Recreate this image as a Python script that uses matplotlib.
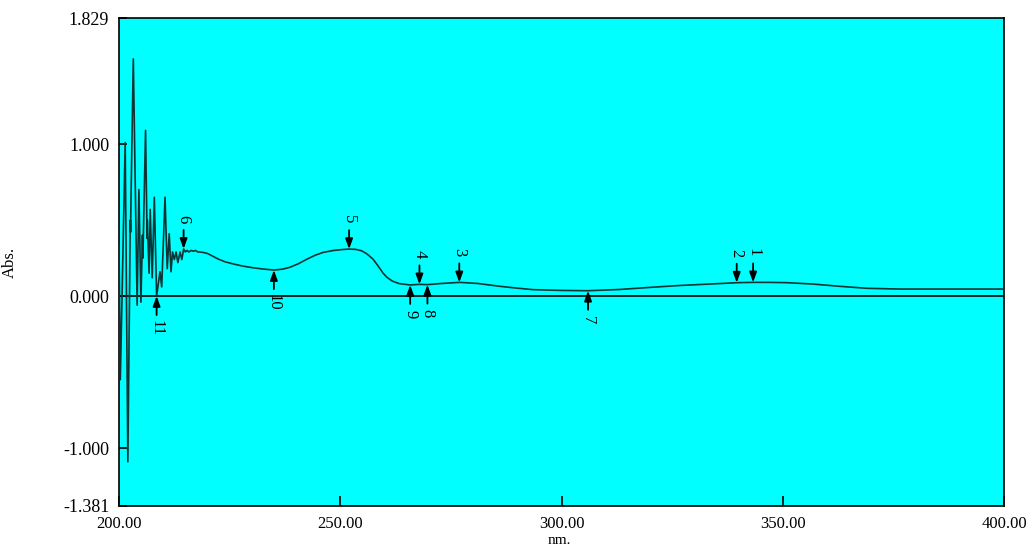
import numpy as np
import matplotlib
matplotlib.use("Agg")
import matplotlib.pyplot as plt

# spectrum (nm, Abs.)
wavelength = [200.0, 200.3, 201.4, 202.0, 202.55, 202.62, 202.7, 203.23, 204.1, 204.5,
              204.95, 205.3, 205.4, 206.0, 206.35, 206.4, 206.8, 207.05, 207.5, 207.98,
              208.5, 209.27, 209.65, 210.4, 210.9, 211.35, 211.75, 212.1, 212.5, 212.9,
              213.3, 213.8, 214.2, 214.6, 215.0, 215.4, 215.8, 216.3, 216.8, 217.3,
              217.8, 218.3, 219.0, 220.0, 221.0, 222.3, 224.0, 226.0, 228.0, 230.3,
              232.5, 235.0, 237.0, 238.6, 240.5, 242.5, 244.3, 246.1, 248.5, 250.5,
              252.0, 253.5, 254.8, 256.0, 257.4, 258.5, 259.7, 260.6, 261.8, 263.3,
              265.8, 267.9, 269.7, 273.0, 277.0, 281.0, 286.1, 290.0, 293.6, 300.0,
              306.0, 313.0, 320.0, 327.0, 333.6, 339.7, 343.3, 347.0, 351.0, 356.8,
              362.9, 369.0, 376.5, 400.0]
absorbance = [0.33, -0.55, 1.01, -1.09, 0.50, 0.42, 0.62, 1.56, -0.06, 0.70,
              -0.04, 0.40, 0.25, 1.09, 0.38, 0.50, 0.15, 0.57, 0.12, 0.65,
              0.0, 0.16, 0.06, 0.65, 0.18, 0.41, 0.16, 0.29, 0.24, 0.29,
              0.22, 0.29, 0.24, 0.31, 0.29, 0.30, 0.29, 0.30, 0.295, 0.30,
              0.29, 0.29, 0.287, 0.28, 0.265, 0.245, 0.225, 0.21, 0.197, 0.186,
              0.178, 0.171, 0.177, 0.189, 0.212, 0.243, 0.268, 0.287, 0.3, 0.306,
              0.309, 0.307, 0.298, 0.278, 0.243, 0.2, 0.15, 0.122, 0.098, 0.082,
              0.073, 0.077, 0.075, 0.083, 0.09, 0.083, 0.064, 0.052, 0.042, 0.037,
              0.035, 0.043, 0.057, 0.07, 0.079, 0.088, 0.09, 0.09, 0.088, 0.079,
              0.064, 0.051, 0.046, 0.046]

# peak / valley picks
peak_ids = ["1", "2", "3", "4", "5", "6"]
peak_nm = [343.3, 339.6, 276.9, 267.9, 252.0, 214.6]
valley_ids = ["7", "8", "9", "10", "11"]
valley_nm = [306.0, 269.7, 265.8, 235.0, 208.5]

y_ticks = [1.829, 1.000, 0.000, -1.000, -1.381]
x_ticks = [200, 250, 300, 350, 400]

fig = plt.figure(figsize=(10.27, 5.46), dpi=100)
ax = fig.add_axes([119 / 1027, 1 - 506 / 546, (1004 - 119) / 1027, (506 - 18) / 546])
ax.set_facecolor("#00ffff")

ax.axhline(0, color="black", lw=1.2, zorder=2)
ax.plot(wavelength, absorbance, color="#0b3535", lw=1.2, zorder=3)

ax.set_xlim(200, 400)
ax.set_ylim(-1.381, 1.829)

serif = "Liberation Serif"
ax.set_yticks(y_ticks)
ax.set_yticklabels([f"{v:.3f}" for v in y_ticks], family=serif, size=13)
ax.set_xticks(x_ticks)
ax.set_xticklabels([f"{v:.2f}" for v in x_ticks], family=serif, size=12)
ax.tick_params(axis="y", direction="in", length=6, width=1.2, pad=7)
ax.tick_params(axis="x", direction="in", length=7, width=1.2, pad=7)
for s in ax.spines.values():
    s.set_linewidth(1.2)

ax.set_xlabel("nm.", family=serif, size=11)
ax.xaxis.set_label_coords(0.497, -0.057)
ax.set_ylabel("Abs.", family=serif, size=12)
ax.yaxis.set_label_coords(-0.114, 0.5)

arrow = dict(arrowstyle="-|>,head_length=0.6,head_width=0.22", color="black", lw=1.3,
             shrinkA=0, shrinkB=0)
for lab, x in zip(peak_ids, peak_nm):
    y = np.interp(x, wavelength, absorbance)
    ax.annotate("", xy=(x, y), xytext=(0, 19), textcoords="offset pixels", arrowprops=arrow, zorder=4)
    ax.annotate(lab, xy=(x, y), xytext=(0, 30), textcoords="offset pixels",
                ha="center", va="center", rotation=-90, fontsize=12, family=serif)
for lab, x in zip(valley_ids, valley_nm):
    y = np.interp(x, wavelength, absorbance)
    ax.annotate("", xy=(x, y), xytext=(0, -19), textcoords="offset pixels", arrowprops=arrow, zorder=4)
    ax.annotate(lab, xy=(x, y), xytext=(0, -29 - 3 * (len(lab) - 1)), textcoords="offset pixels",
                ha="center", va="center", rotation=-90, fontsize=12, family=serif)

fig.savefig("out.png", dpi=100, facecolor="white")
